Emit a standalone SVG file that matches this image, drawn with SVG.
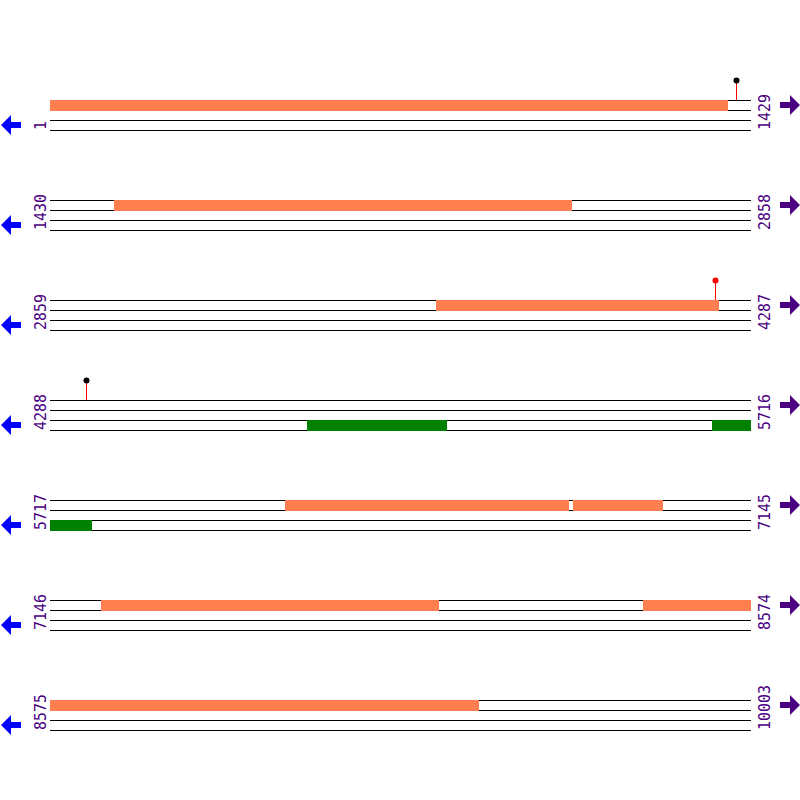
<svg xmlns="http://www.w3.org/2000/svg" width="800" height="800" viewBox="0 0 800 800">
<style>
.strand{stroke:#000;stroke-width:1}
.orf{fill:#FF7F50}
.grn{fill:#008000}
.lbl{font-family:"DejaVu Sans Mono",monospace;font-size:15px;fill:#4B0082}
.la{fill:#0000FF}
.ra{fill:#4B0082}
.stem{stroke:#FF0000;stroke-width:1}
</style>
<defs>
<g id="lines">
<line class="strand" x1="50" y1="100.5" x2="751" y2="100.5"/>
<line class="strand" x1="50" y1="110.5" x2="751" y2="110.5"/>
<line class="strand" x1="50" y1="120.5" x2="751" y2="120.5"/>
<line class="strand" x1="50" y1="130.5" x2="751" y2="130.5"/>
</g>
<polygon id="larrow" class="la" points="1,125 11,115 11,122 21,122 21,128 11,128 11,135"/>
<polygon id="rarrow" class="ra" points="780,102 790,102 790,95 800,105 790,115 790,108 780,108"/>
</defs>
<rect width="800" height="800" fill="#fff"/>
<g id="row1">
<use href="#lines"/>
<rect class="orf" x="50" y="100" width="678" height="11"/>
<line class="stem" x1="736.5" y1="80" x2="736.5" y2="100"/>
<circle cx="736.5" cy="80.5" r="3" fill="#000"/>
<text class="lbl" transform="translate(46,130) rotate(-90)">1</text>
<text class="lbl" transform="translate(770,130) rotate(-90)">1429</text>
<use href="#larrow"/><use href="#rarrow"/>
</g>
<g id="row2" transform="translate(0,100)">
<use href="#lines"/>
<rect class="orf" x="114" y="100" width="458" height="11"/>
<text class="lbl" transform="translate(46,130) rotate(-90)">1430</text>
<text class="lbl" transform="translate(770,130) rotate(-90)">2858</text>
<use href="#larrow"/><use href="#rarrow"/>
</g>
<g id="row3" transform="translate(0,200)">
<use href="#lines"/>
<rect class="orf" x="436" y="100" width="283" height="11"/>
<line class="stem" x1="715.5" y1="80" x2="715.5" y2="100"/>
<circle cx="715.5" cy="80.5" r="3" fill="#FF0000"/>
<text class="lbl" transform="translate(46,130) rotate(-90)">2859</text>
<text class="lbl" transform="translate(770,130) rotate(-90)">4287</text>
<use href="#larrow"/><use href="#rarrow"/>
</g>
<g id="row4" transform="translate(0,300)">
<use href="#lines"/>
<rect class="grn" x="307" y="120" width="140" height="11"/>
<rect class="grn" x="712" y="120" width="39" height="11"/>
<line class="stem" x1="86.5" y1="80" x2="86.5" y2="100"/>
<circle cx="86.5" cy="80.5" r="3" fill="#000"/>
<text class="lbl" transform="translate(46,130) rotate(-90)">4288</text>
<text class="lbl" transform="translate(770,130) rotate(-90)">5716</text>
<use href="#larrow"/><use href="#rarrow"/>
</g>
<g id="row5" transform="translate(0,400)">
<use href="#lines"/>
<rect class="orf" x="285" y="100" width="284" height="11"/>
<rect class="orf" x="573" y="100" width="90" height="11"/>
<rect class="grn" x="50" y="120" width="42" height="11"/>
<text class="lbl" transform="translate(46,130) rotate(-90)">5717</text>
<text class="lbl" transform="translate(770,130) rotate(-90)">7145</text>
<use href="#larrow"/><use href="#rarrow"/>
</g>
<g id="row6" transform="translate(0,500)">
<use href="#lines"/>
<rect class="orf" x="101" y="100" width="338" height="11"/>
<rect class="orf" x="643" y="100" width="108" height="11"/>
<text class="lbl" transform="translate(46,130) rotate(-90)">7146</text>
<text class="lbl" transform="translate(770,130) rotate(-90)">8574</text>
<use href="#larrow"/><use href="#rarrow"/>
</g>
<g id="row7" transform="translate(0,600)">
<use href="#lines"/>
<rect class="orf" x="50" y="100" width="429" height="11"/>
<text class="lbl" transform="translate(46,130) rotate(-90)">8575</text>
<text class="lbl" transform="translate(770,130) rotate(-90)">10003</text>
<use href="#larrow"/><use href="#rarrow"/>
</g>
</svg>
